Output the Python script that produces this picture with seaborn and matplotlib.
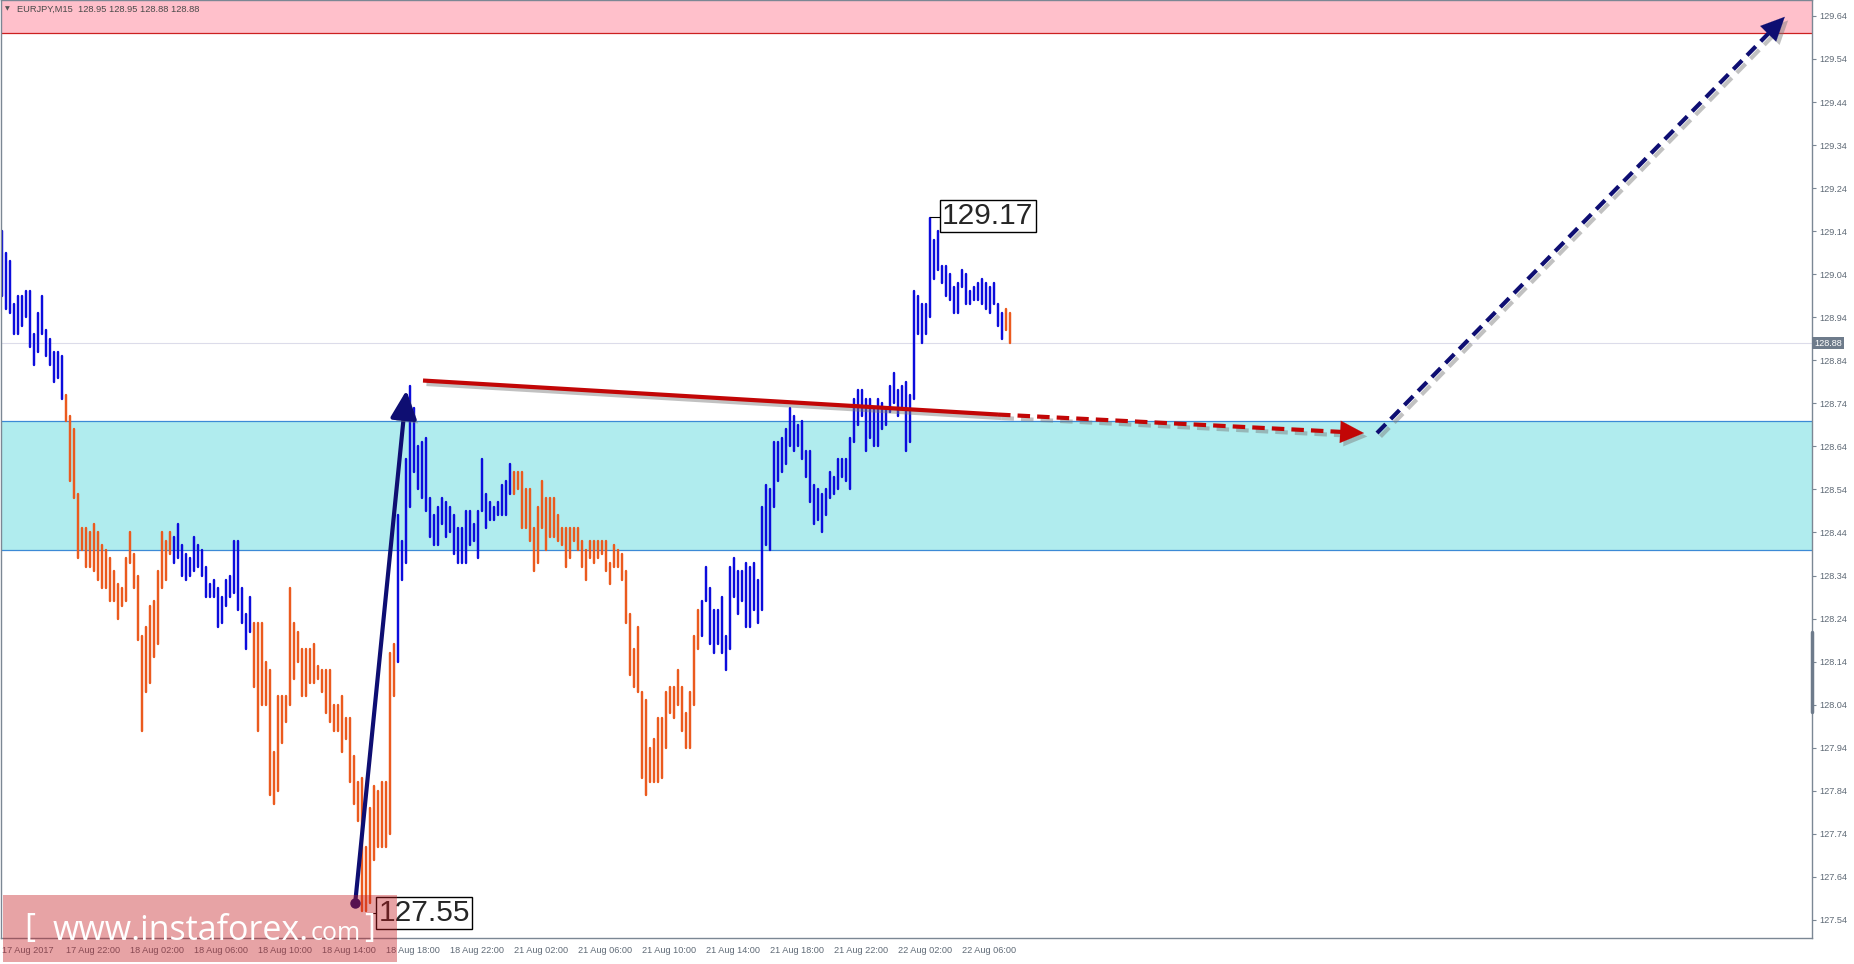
import matplotlib
matplotlib.use('Agg')
import matplotlib.pyplot as plt
import matplotlib.patheffects as pe
import matplotlib.transforms as mtransforms
from matplotlib.patches import Rectangle
import numpy as np
import pandas as pd
import seaborn as sns

# EURJPY M15 bars (high / low)
highs = [129.14, 129.09, 129.07, 128.97, 128.99, 128.99, 129.00, 129.00, 128.90, 128.95,
         128.99, 128.91, 128.89, 128.86, 128.86, 128.85, 128.76, 128.71, 128.68, 128.53,
         128.45, 128.45, 128.44, 128.46, 128.44, 128.41, 128.40, 128.38, 128.35, 128.32,
         128.31, 128.38, 128.44, 128.39, 128.34, 128.20, 128.22, 128.27, 128.28, 128.35,
         128.44, 128.42, 128.44, 128.43, 128.46, 128.41, 128.39, 128.38, 128.43, 128.41,
         128.40, 128.36, 128.32, 128.33, 128.31, 128.29, 128.33, 128.34, 128.42, 128.42,
         128.31, 128.25, 128.29, 128.23, 128.23, 128.23, 128.14, 128.12, 127.93, 128.06,
         128.06, 128.06, 128.31, 128.23, 128.21, 128.17, 128.17, 128.17, 128.18, 128.13,
         128.12, 128.12, 128.12, 128.04, 128.04, 128.06, 128.01, 128.01, 127.92, 127.86,
         127.87, 127.71, 127.80, 127.85, 127.84, 127.86, 127.86, 128.16, 128.18, 128.48,
         128.42, 128.61, 128.78, 128.73, 128.64, 128.65, 128.66, 128.52, 128.48, 128.50,
         128.52, 128.51, 128.50, 128.48, 128.45, 128.45, 128.49, 128.49, 128.46, 128.49,
         128.61, 128.53, 128.51, 128.50, 128.51, 128.55, 128.56, 128.60, 128.58, 128.58,
         128.58, 128.54, 128.54, 128.45, 128.50, 128.56, 128.52, 128.52, 128.52, 128.48,
         128.45, 128.45, 128.45, 128.45, 128.45, 128.42, 128.40, 128.42, 128.42, 128.42,
         128.42, 128.42, 128.37, 128.41, 128.40, 128.39, 128.35, 128.25, 128.17, 128.22,
         128.07, 128.05, 127.94, 127.96, 128.01, 128.01, 128.07, 128.08, 128.08, 128.12,
         128.08, 128.02, 128.07, 128.20, 128.26, 128.28, 128.36, 128.31, 128.26, 128.26,
         128.29, 128.20, 128.36, 128.38, 128.35, 128.35, 128.37, 128.36, 128.37, 128.33,
         128.50, 128.55, 128.54, 128.65, 128.65, 128.66, 128.68, 128.73, 128.71, 128.69,
         128.70, 128.63, 128.63, 128.55, 128.54, 128.53, 128.54, 128.58, 128.57, 128.61,
         128.61, 128.61, 128.66, 128.75, 128.77, 128.77, 128.75, 128.75, 128.73, 128.75,
         128.74, 128.73, 128.78, 128.81, 128.77, 128.78, 128.79, 128.76, 129.00, 128.99,
         128.97, 128.97, 129.17, 129.12, 129.14, 129.06, 129.06, 129.04, 129.01, 129.02,
         129.05, 129.04, 129.00, 129.01, 129.02, 129.03, 129.02, 129.01, 129.02, 128.97,
         128.95, 128.96, 128.95]
lows = [128.99, 128.96, 128.95, 128.90, 128.90, 128.92, 128.94, 128.87, 128.83, 128.86,
        128.90, 128.85, 128.83, 128.79, 128.80, 128.75, 128.70, 128.56, 128.52, 128.38,
        128.40, 128.36, 128.36, 128.35, 128.33, 128.31, 128.31, 128.28, 128.28, 128.24,
        128.27, 128.28, 128.37, 128.31, 128.19, 127.98, 128.07, 128.09, 128.15, 128.18,
        128.31, 128.33, 128.39, 128.37, 128.38, 128.34, 128.33, 128.34, 128.35, 128.36,
        128.34, 128.29, 128.29, 128.29, 128.22, 128.23, 128.27, 128.29, 128.30, 128.26,
        128.23, 128.17, 128.21, 128.08, 127.98, 128.04, 128.04, 127.83, 127.81, 127.84,
        127.95, 128.00, 128.04, 128.10, 128.14, 128.06, 128.06, 128.09, 128.09, 128.10,
        128.07, 128.02, 128.00, 127.98, 127.98, 127.93, 127.96, 127.86, 127.81, 127.77,
        127.56, 127.56, 127.58, 127.68, 127.71, 127.71, 127.71, 127.74, 128.06, 128.14,
        128.33, 128.37, 128.50, 128.58, 128.54, 128.52, 128.49, 128.43, 128.41, 128.41,
        128.46, 128.43, 128.44, 128.39, 128.37, 128.37, 128.37, 128.41, 128.42, 128.38,
        128.49, 128.45, 128.47, 128.47, 128.48, 128.48, 128.48, 128.53, 128.53, 128.54,
        128.45, 128.45, 128.42, 128.35, 128.37, 128.45, 128.40, 128.43, 128.43, 128.42,
        128.41, 128.36, 128.38, 128.42, 128.40, 128.36, 128.33, 128.38, 128.37, 128.38,
        128.39, 128.35, 128.32, 128.36, 128.36, 128.33, 128.23, 128.11, 128.08, 128.07,
        127.87, 127.83, 127.86, 127.86, 127.86, 127.87, 127.94, 128.02, 128.01, 128.04,
        127.98, 127.94, 127.94, 128.04, 128.17, 128.20, 128.28, 128.18, 128.16, 128.18,
        128.16, 128.12, 128.17, 128.29, 128.25, 128.28, 128.22, 128.22, 128.26, 128.23,
        128.26, 128.41, 128.40, 128.50, 128.56, 128.58, 128.60, 128.64, 128.63, 128.64,
        128.61, 128.57, 128.51, 128.46, 128.47, 128.44, 128.48, 128.52, 128.53, 128.54,
        128.57, 128.56, 128.54, 128.65, 128.69, 128.71, 128.63, 128.66, 128.64, 128.64,
        128.68, 128.69, 128.72, 128.74, 128.71, 128.73, 128.63, 128.65, 128.75, 128.90,
        128.88, 128.90, 128.94, 129.03, 129.05, 129.02, 128.99, 128.98, 128.95, 128.95,
        129.01, 128.97, 128.97, 128.98, 128.98, 128.97, 128.96, 128.95, 128.97, 128.92,
        128.89, 128.91, 128.88]
# colouring of the bars: (number of bars, wave direction)
wave_runs = [(16, 'up'), (27, 'down'), (20, 'up'), (36, 'down'),
             (29, 'up'), (47, 'down'), (76, 'up'), (2, 'down')]

time_labels = ['17 Aug 2017', '17 Aug 22:00', '18 Aug 02:00', '18 Aug 06:00',
               '18 Aug 10:00', '18 Aug 14:00', '18 Aug 18:00', '18 Aug 22:00',
               '21 Aug 02:00', '21 Aug 06:00', '21 Aug 10:00', '21 Aug 14:00',
               '21 Aug 18:00', '21 Aug 22:00', '22 Aug 02:00', '22 Aug 06:00']
bars_per_label = 16
price_ticks = [127.54, 127.64, 127.74, 127.84, 127.94, 128.04, 128.14, 128.24,
               128.34, 128.44, 128.54, 128.64, 128.74, 128.84, 128.94, 129.04,
               129.14, 129.24, 129.34, 129.44, 129.54, 129.64]

header = 'EURJPY,M15  128.95 128.95 128.88 128.88'
last_price = 128.88
support_zone = (128.40, 128.70)
target_zone = (129.60, 129.75)

# wave mark-up (bar index, price)
impulse = [(88.3, 127.58), (101.1, 128.77)]
trend_line = [(105.25, 128.793), (249.0, 128.714)]
forecast_flat = [(249.0, 128.714), (340.5, 128.671)]
forecast_up = [(343.75, 128.671), (445.7, 129.638)]
high_label = (232, 129.17, '129.17')
low_label = (91.3, 127.556, '127.55')

sns.set_style('white')
plt.rcParams['font.family'] = ['Liberation Sans', 'DejaVu Sans']

fig = plt.figure(figsize=(18.54, 9.64), dpi=100)
ax = fig.add_axes([1 / 1854, 26 / 964, 1811 / 1854, 938 / 964])

wave = []
for count, w in wave_runs:
    wave += [w] * count
bars = pd.DataFrame({'bar': np.arange(len(highs)), 'high': highs, 'low': lows, 'wave': wave})
long = bars.melt(id_vars=['bar', 'wave'], value_vars=['high', 'low'], value_name='price')

ax.axhspan(*support_zone, color='#b0ecee', lw=0, zorder=0)
for y in support_zone:
    ax.axhline(y, color='#3c8ad6', lw=0.9, zorder=0.5)
ax.axhspan(*target_zone, color='#ffc0cb', lw=0, zorder=0)
ax.axhline(target_zone[0], color='#cc2020', lw=0.9, zorder=0.5)
ax.axhline(last_price, color='#dcdcea', lw=0.8, zorder=0.6)

sns.lineplot(data=long, x='bar', y='price', units='bar', estimator=None, hue='wave',
             palette={'up': '#0c0cdc', 'down': '#eb5a1e'}, linewidth=1.75,
             legend=False, ax=ax, zorder=2)

shadow_line = [pe.SimpleLineShadow(offset=(2.5, -2.5), shadow_color='#777777', alpha=0.45), pe.Normal()]
shadow_patch = [pe.SimplePatchShadow(offset=(2.5, -2.5), shadow_rgbFace='#777777', alpha=0.45), pe.Normal()]

# red flat line with dashed continuation
red = '#c20606'
(x0, y0), (x1, y1) = trend_line
ax.plot([x0, x1], [y0, y1], color=red, lw=3.0, solid_capstyle='butt', zorder=4, path_effects=shadow_line)
(x0, y0), (x1, y1) = forecast_flat
f = 0.94
ax.plot([x0, x0 + f * (x1 - x0)], [y0, y0 + f * (y1 - y0)], color=red, lw=3.0,
        ls=(0, (3.0, 1.7)), dash_capstyle='butt', zorder=4, path_effects=shadow_line)
ax.annotate('', xy=(x1, y1), xytext=(x1 - 0.5, y1 + 0.5 * (y0 - y1) / (x1 - x0)),
            arrowprops=dict(arrowstyle='-|>,head_length=1.7,head_width=0.8', color=red,
                            lw=0.1, shrinkA=0, shrinkB=0, path_effects=shadow_patch), zorder=4)

# navy impulse arrow
navy = '#0e0e72'
(x0, y0), (x1, y1) = impulse
ax.annotate('', xy=(x1, y1), xytext=(x0, y0),
            arrowprops=dict(arrowstyle='-|>,head_length=1.7,head_width=0.8', color=navy,
                            lw=3, shrinkA=0, shrinkB=0, path_effects=shadow_patch), zorder=4)
ax.plot(x0, y0, 'o', ms=6.5, color=navy, zorder=4)

# navy dashed forecast arrow
(x0, y0), (x1, y1) = forecast_up
f = 0.97
ax.plot([x0, x0 + f * (x1 - x0)], [y0, y0 + f * (y1 - y0)], color=navy, lw=3,
        ls=(0, (3.0, 1.7)), dash_capstyle='butt', zorder=4, path_effects=shadow_line)
ax.annotate('', xy=(x1, y1), xytext=(x1 - 0.5, y1 - 0.5 * (y1 - y0) / (x1 - x0)),
            arrowprops=dict(arrowstyle='-|>,head_length=1.7,head_width=0.8', color=navy,
                            lw=0.1, shrinkA=0, shrinkB=0, path_effects=shadow_patch), zorder=4)

# price labels at the extremes
box = dict(boxstyle='square,pad=0.08', fc='white', ec='black', lw=1)
bx, by, txt = high_label
ax.plot([bx, bx + 2.5], [by + 0.004, by + 0.004], color='black', lw=0.8, zorder=5)
ax.text(bx + 3.0, by + 0.005, txt, fontsize=21.5, va='center', ha='left', bbox=box, zorder=6)
bx, by, txt = low_label
ax.plot([bx, bx + 2.2], [by, by], color='black', lw=0.8, zorder=5)
ax.text(bx + 2.8, by, txt, fontsize=21.5, va='center', ha='left', bbox=box, zorder=6)

ax.set_xlim(-0.25, 452.5)
ax.set_ylim(127.498, 129.677)
ax.set_xlabel('')
ax.set_ylabel('')

ax.yaxis.tick_right()
ax.set_yticks(price_ticks)
ax.set_yticklabels([f'{p:.2f}' for p in price_ticks])
ax.set_xticks(np.arange(len(time_labels)) * bars_per_label)
ax.set_xticklabels(time_labels, ha='left')
ax.tick_params(axis='y', direction='out', length=3, width=0.8, pad=2.5,
               labelsize=6.6, color='#7b8794', labelcolor='#5f6a76')
ax.tick_params(axis='x', direction='out', length=3, width=0.8, pad=2.5,
               labelsize=6.6, color='#7b8794', labelcolor='#5f6a76')
for s in ax.spines.values():
    s.set_color('#7b8794')
    s.set_linewidth(1)

# current price tag and scale marker on the right axis
trans = mtransforms.blended_transform_factory(ax.transAxes, ax.transData)
ax.text(1.0 + 2 / 1811, last_price, f'{last_price:.2f}', transform=trans, ha='left', va='center',
        fontsize=6.6, color='white', zorder=7, clip_on=False,
        bbox=dict(boxstyle='square,pad=0.2', fc='#6e7b8b', ec='none'))
ax.plot([1.0, 1.0], [128.023, 128.209], transform=trans, color='#6e7b8b', lw=2.5,
        clip_on=False, zorder=7)

# header
fig.text(5 / 1854, 1 - 9 / 964, '\u25bc', fontsize=4.5, color='#555555', va='center',
         family='DejaVu Sans')
fig.text(17 / 1854, 1 - 9 / 964, header, fontsize=6.7, color='#4a4a4a', va='center')

# watermark
fig.add_artist(Rectangle((3 / 1854, 2 / 964), 394 / 1854, 67 / 964, transform=fig.transFigure,
                         fc=(197 / 255, 25 / 255, 30 / 255), alpha=0.4, ec='none', zorder=10))
wm = dict(color='white', va='baseline', zorder=11, family=['Open Sans', 'DejaVu Sans'])
fig.text(24 / 1854, 27 / 964, '[', fontsize=24, **wm)
fig.text(53 / 1854, 24 / 964, 'www.instaforex.', fontsize=24.5, **wm)
fig.text(311 / 1854, 24 / 964, 'com', fontsize=18, **wm)
fig.text(364 / 1854, 27 / 964, ']', fontsize=24, **wm)

fig.savefig('out.png', dpi=100, facecolor='white')
